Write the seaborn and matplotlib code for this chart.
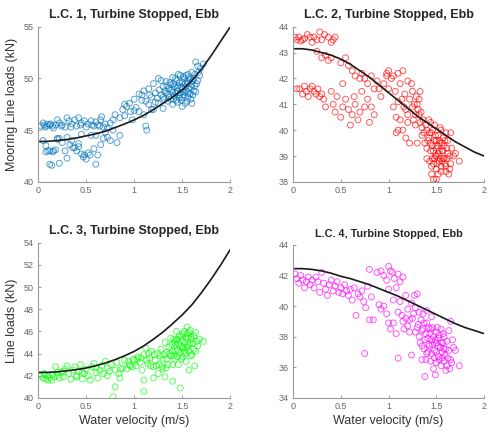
import numpy as np
import pandas as pd
import seaborn as sns
import matplotlib
matplotlib.use("Agg")
import matplotlib.pyplot as plt

# ---- data ----
fit_x = [0.0, 0.1, 0.2, 0.3, 0.4, 0.5, 0.6, 0.7, 0.8, 0.9, 1.0,
         1.1, 1.2, 1.3, 1.4, 1.5, 1.6, 1.7, 1.8, 1.9, 2.0]

fit_lc1 = [43.9, 43.92, 44.0, 44.1, 44.25, 44.45, 44.65, 44.9, 45.25, 45.6, 46.0,
           46.45, 47.0, 47.6, 48.2, 48.9, 49.8, 50.9, 52.2, 53.6, 55.0]
fit_lc2 = [43.15, 43.15, 43.1, 43.0, 42.9, 42.75, 42.55, 42.3, 42.05, 41.75, 41.45,
           41.15, 40.85, 40.55, 40.3, 40.05, 39.8, 39.55, 39.35, 39.15, 39.0]
fit_lc3 = [42.3, 42.3, 42.35, 42.45, 42.55, 42.7, 42.9, 43.15, 43.45, 43.8, 44.2,
           44.7, 45.3, 45.95, 46.7, 47.5, 48.4, 49.5, 50.7, 52.0, 53.4]
fit_lc4 = [42.45, 42.45, 42.4, 42.3, 42.15, 41.95, 41.8, 41.6, 41.4, 41.15, 40.9,
           40.65, 40.35, 40.05, 39.75, 39.45, 39.15, 38.85, 38.6, 38.4, 38.2]

lc1_pts = [
    (0.03,45.4),(0.05,45.7),(0.07,45.3),(0.1,45.6),(0.12,45.5),(0.15,45.4),(0.18,45.5),(0.2,46.0),
    (0.22,45.7),(0.25,45.5),(0.28,45.3),(0.3,46.2),(0.32,45.9),(0.35,45.6),(0.38,46.0),(0.4,45.4),
    (0.42,46.2),(0.45,45.7),(0.5,45.3),(0.52,45.6),(0.55,45.9),(0.58,45.4),(0.6,45.8),(0.62,45.5),
    (0.65,46.0),(0.68,45.3),(0.7,45.6),(0.72,45.2),(0.75,45.7),(0.78,46.0),
    (0.06,45.5),(0.09,45.4),(0.13,45.6),(0.16,45.2),(0.24,45.4),(0.34,45.3),(0.44,45.5),(0.48,45.9),
    (0.56,45.5),(0.64,45.4),(0.66,46.3),
    (0.05,44.0),(0.08,43.5),(0.1,43.0),(0.12,41.7),(0.14,41.6),(0.15,42.9),(0.18,43.1),(0.2,44.2),
    (0.22,41.8),(0.25,43.8),(0.28,43.0),(0.3,42.3),(0.33,43.6),(0.35,44.0),(0.38,43.3),(0.4,43.0),
    (0.42,43.7),(0.45,42.7),(0.47,42.4),(0.5,42.2),(0.52,42.8),(0.55,44.5),(0.58,43.2),(0.6,41.7),
    (0.62,42.6),(0.65,43.6),(0.68,44.2),(0.7,44.8),(0.72,44.3),(0.75,44.0),(0.78,45.0),(0.82,43.8),
    (0.85,44.5),(0.2,44.1),(0.3,44.3),(0.45,44.6),(0.6,44.5),
    (0.36,43.3),(0.42,43.4),(0.48,42.6),(0.54,42.6),(0.16,43.0),(0.22,44.2),(0.08,42.9),(0.12,43.0),
    (0.8,46.5),(0.85,46.2),(0.88,47.0),(0.9,46.4),(0.92,47.3),(0.95,47.6),(0.98,46.0),(1.0,48.0),
    (1.02,47.2),(1.05,48.5),(1.05,46.8),(1.08,47.9),(1.1,46.5),(1.1,48.8),(1.12,45.4),(1.13,45.0),
    (1.15,47.5),(1.15,49.0),(1.18,48.2),(1.2,47.0),(1.2,49.5),(1.22,48.6),(1.25,47.6),(1.25,50.0),
    (1.28,48.4),(1.3,49.2),(1.3,47.1),(1.32,48.8),(1.33,49.7),
    (1.26,48.9),(1.24,48.1),(1.22,47.7),(1.18,47.0),(1.16,48.4),(1.12,47.8),(1.08,48.4),(0.96,46.8),
    (0.9,47.5),(1.0,46.9),
    (1.35,48.5),(1.36,49.0),(1.38,48.0),(1.38,49.4),(1.4,48.7),(1.4,47.5),(1.42,49.2),(1.42,48.3),
    (1.44,49.8),(1.44,47.9),(1.45,48.8),(1.46,49.3),(1.47,48.1),(1.48,50.3),(1.48,48.6),(1.5,49.0),
    (1.5,47.3),(1.5,49.6),(1.52,48.4),(1.52,50.0),(1.53,49.2),(1.54,48.8),(1.55,49.7),(1.55,47.8),
    (1.56,50.4),(1.57,49.0),(1.58,48.5),(1.58,49.9),(1.6,49.4),(1.6,50.6),(1.62,48.8),(1.62,50.0),
    (1.64,51.6),(1.65,49.5),(1.66,51.2),(1.68,50.3),(1.72,51.4),(1.35,47.8),(1.4,50.1),(1.46,50.4),
    (1.3,48.2),(1.28,49.8),(1.5,48.2),(1.56,48.2),(1.6,47.6),
    (1.31,48.0),(1.33,48.6),(1.34,49.3),(1.36,48.2),(1.37,49.6),(1.39,48.9),(1.41,48.0),(1.41,49.5),
    (1.43,48.6),(1.43,50.0),(1.45,47.7),(1.45,49.1),(1.47,49.6),(1.47,48.4),(1.49,49.2),(1.49,47.9),
    (1.51,48.7),(1.51,50.2),(1.53,47.6),(1.53,49.5),(1.54,50.3),(1.56,48.6),(1.56,49.5),(1.57,50.1),
    (1.59,49.2),(1.59,48.0),(1.61,49.8),(1.61,48.4),(1.63,49.3),(1.63,50.4),(1.64,48.7),(1.66,49.8),
    (1.67,50.6),(1.69,51.0),
]

lc2_pts = [
    (0.02,43.6),(0.04,43.5),(0.06,43.6),(0.08,43.45),(0.1,43.5),(0.12,43.55),(0.15,43.7),(0.18,43.6),
    (0.2,43.4),(0.22,43.6),(0.25,43.5),(0.28,43.8),(0.3,43.5),(0.33,43.7),(0.37,43.6),(0.4,43.4),
    (0.42,43.5),(0.44,43.6),(0.25,43.05),(0.3,42.8),(0.34,42.9),(0.37,42.7),(0.4,42.8),
    (0.04,41.6),(0.07,41.6),(0.1,41.4),(0.12,41.7),(0.14,41.5),(0.16,41.3),(0.18,41.6),(0.2,41.7),
    (0.22,41.5),(0.24,41.4),(0.26,41.6),(0.28,41.3),(0.3,41.4),(0.32,41.2),(0.34,40.9),(0.4,41.5),
    (0.42,41.0),(0.44,40.7),(0.46,41.3),(0.5,40.5),(0.52,40.9),(0.55,41.2),(0.58,40.8),(0.6,40.2),
    (0.62,40.6),(0.65,41.0),(0.68,40.4),(0.7,40.7),(0.72,41.5),(0.75,40.9),(0.78,41.2),(0.8,40.3),
    (0.82,40.9),(0.85,40.6),(0.52,41.8),(0.64,41.3),
    (0.5,42.6),(0.55,42.8),(0.58,42.5),(0.62,42.3),(0.65,42.1),(0.7,42.0),(0.72,42.2),(0.75,42.0),
    (0.78,41.8),(0.82,42.1),(0.85,41.6),(0.88,41.9),(0.9,41.6),(0.92,41.3),(0.95,41.8),(0.98,42.1),
    (1.0,41.6),
    (0.98,42.2),(1.0,42.3),(1.03,42.0),(1.05,42.1),(1.07,41.5),(1.1,42.2),(1.12,41.8),(1.15,42.3),
    (1.17,41.4),(1.2,41.9),(1.22,41.2),(1.05,40.9),(1.08,40.5),(1.1,41.1),(1.12,40.4),(1.15,40.0),
    (1.18,40.8),(1.2,40.3),(1.22,39.5),(1.25,40.9),(1.25,41.5),(1.28,40.2),(1.3,41.0),(1.3,39.5),
    (1.32,40.6),(1.33,41.5),(1.35,40.1),(1.35,39.8),(1.08,39.9),(1.1,40.0),(1.18,39.7),(1.28,40.6),
    (1.32,41.2),
    (1.36,40.4),(1.37,39.9),(1.34,40.7),(1.33,40.3),(1.31,40.8),(1.29,41.3),(1.27,41.0),(1.26,40.4),
    (1.24,41.8),(1.2,40.6),(1.16,40.9),(1.14,41.2),
    (1.38,39.5),(1.4,40.0),(1.4,38.9),(1.42,39.7),(1.42,40.4),(1.44,39.2),(1.45,38.6),(1.45,39.9),
    (1.46,39.4),(1.47,38.1),(1.48,39.6),(1.48,40.2),(1.5,39.0),(1.5,39.3),(1.5,38.5),(1.52,39.8),
    (1.52,39.1),(1.53,38.8),(1.54,39.5),(1.55,40.0),(1.55,38.6),(1.56,39.2),(1.57,39.7),(1.58,38.9),
    (1.58,39.4),(1.6,38.6),(1.6,39.9),(1.62,39.1),(1.63,38.3),(1.65,38.7),(1.65,39.9),(1.68,39.0),
    (1.7,39.1),(1.74,38.8),(1.44,40.3),(1.46,38.9),(1.5,39.6),(1.4,39.3),(1.52,38.3),(1.57,38.9),
    (1.39,40.2),(1.41,39.6),(1.43,39.9),(1.43,38.8),(1.44,39.5),(1.46,40.0),(1.47,39.2),(1.47,38.7),
    (1.49,39.8),(1.49,39.0),(1.51,39.4),(1.51,38.7),(1.53,39.6),(1.53,39.2),(1.54,38.9),(1.54,40.1),
    (1.56,39.5),(1.56,38.8),(1.57,39.2),(1.59,39.6),(1.59,38.7),(1.61,39.3),(1.61,38.9),(1.62,39.6),
    (1.64,39.0),(1.64,38.5),(1.66,39.3),(1.45,38.3),(1.48,38.9),(1.55,38.4),(1.6,38.4),(1.5,38.1),
]

lc3_pts = [
    (0.03,42.0),(0.05,41.8),(0.07,42.1),(0.08,41.7),(0.1,42.0),(0.12,41.8),(0.14,41.6),(0.15,42.1),
    (0.17,41.9),(0.18,42.8),(0.2,42.0),(0.22,41.8),(0.24,42.3),(0.26,41.9),(0.28,42.6),(0.3,42.9),
    (0.32,42.2),(0.34,41.7),(0.36,42.5),(0.38,42.8),(0.4,42.0),(0.42,42.4),(0.44,43.0),(0.46,41.7),
    (0.48,42.2),(0.5,42.6),(0.52,42.0),(0.54,41.6),(0.56,42.8),(0.58,43.1),(0.6,42.3),(0.62,41.8),
    (0.64,42.5),(0.66,42.9),(0.68,42.2),(0.7,43.3),(0.72,42.7),(0.74,42.4),(0.76,43.0),(0.78,40.1),
    (0.8,41.0),(0.8,42.5),(0.82,43.2),(0.85,41.8),(0.88,42.7),(0.9,43.4),(0.92,42.6),
    (0.86,42.6),(0.84,42.2),(0.72,42.0),(0.6,42.7),(0.46,42.3),(0.4,41.9),(0.26,42.4),(0.2,42.3),
    (0.1,41.6),(0.06,42.2),
    (0.95,43.0),(0.98,42.8),(1.0,43.4),(1.02,42.9),(1.04,43.7),(1.06,43.2),(1.08,42.5),(1.1,41.6),
    (1.1,40.6),(1.1,43.9),(1.12,44.5),(1.14,43.1),(1.16,43.6),(1.18,44.2),(1.2,42.8),(1.2,41.8),
    (1.22,43.4),(1.24,44.0),(1.25,42.2),(1.26,43.0),(1.28,44.4),(1.3,42.6),(1.3,43.5),(1.32,41.9),
    (1.32,45.0),(1.34,44.1),
    (1.34,43.5),(1.33,42.7),(1.31,43.9),(1.29,42.8),(1.27,43.8),(1.23,42.9),(1.21,43.9),(1.17,42.9),
    (1.15,44.0),(1.13,43.4),(1.07,43.6),(1.03,43.5),(0.99,43.5),(0.96,42.9),(0.94,43.3),
    (1.35,43.0),(1.36,44.6),(1.38,43.8),(1.38,45.4),(1.4,44.2),(1.4,41.5),(1.42,45.0),(1.42,43.5),
    (1.43,44.8),(1.44,46.0),(1.45,44.3),(1.46,43.0),(1.47,45.6),(1.48,44.7),(1.48,40.9),(1.5,45.2),
    (1.5,43.7),(1.52,46.0),(1.52,44.1),(1.53,45.0),(1.54,43.3),(1.55,46.4),(1.55,44.6),(1.56,45.5),
    (1.57,42.5),(1.58,44.9),(1.58,46.1),(1.6,45.3),(1.6,43.9),(1.62,44.4),(1.63,42.9),(1.65,45.1),
    (1.68,45.3),(1.72,45.1),(1.5,44.5),(1.45,45.3),(1.4,43.0),(1.55,45.8),
    (1.37,44.0),(1.39,44.8),(1.41,43.8),(1.41,45.3),(1.43,44.2),(1.44,45.2),(1.45,43.7),(1.46,44.9),
    (1.47,44.1),(1.49,45.5),(1.49,43.5),(1.51,44.6),(1.51,45.8),(1.53,44.3),(1.54,45.4),(1.54,44.0),
    (1.56,44.8),(1.57,45.9),(1.57,44.2),(1.59,45.5),(1.59,43.8),(1.61,44.9),(1.62,45.6),(1.64,44.2),
    (1.64,45.9),(1.66,44.7),
]

lc4_pts = [
    (0.02,42.1),(0.04,41.8),(0.06,41.5),(0.08,42.0),(0.1,41.7),(0.12,41.2),(0.14,41.6),(0.16,41.9),
    (0.18,41.4),(0.2,41.7),(0.22,41.2),(0.24,41.9),(0.26,41.6),(0.28,40.9),(0.3,42.2),(0.32,41.5),
    (0.34,41.1),(0.36,40.7),(0.38,41.4),(0.4,41.7),(0.42,41.0),(0.44,41.3),(0.46,41.6),(0.48,40.9),
    (0.5,41.2),(0.52,40.8),(0.54,41.4),(0.56,41.0),(0.58,40.7),(0.6,41.1),(0.62,40.4),(0.64,41.2),
    (0.66,39.4),(0.68,40.8),(0.7,40.6),(0.72,41.0),(0.74,40.3),(0.76,39.9),(0.78,41.3),(0.8,39.1),
    (0.82,40.6),(0.75,36.9),(0.84,39.1),
    (0.8,42.4),(0.88,42.2),(0.92,42.3),(0.95,42.0),(0.98,41.7),(1.0,42.6),(1.02,42.3),(1.04,42.2),
    (1.06,41.8),(1.1,42.1),(1.12,41.6),(1.15,41.9),(1.0,41.1),(1.05,40.4),(1.08,41.2),(0.9,40.1),
    (0.92,39.8),(0.95,40.0),(0.98,39.5),(1.0,38.9),(1.02,38.5),(1.05,38.9),(1.08,38.2),(1.1,36.6),
    (1.1,39.6),(1.12,40.3),(1.15,39.0),(1.18,40.7),(1.2,39.8),(1.22,38.3),(1.24,36.8),(1.25,39.2),
    (1.28,39.9),(1.3,40.8),(1.3,38.6),
    (1.28,38.3),(1.26,39.5),(1.24,40.2),(1.22,39.1),(1.2,38.7),(1.16,38.5),(1.14,39.4),(1.18,39.2),
    (1.27,40.7),(1.32,39.6),(1.36,39.5),(1.4,39.7),
    (1.32,38.0),(1.34,39.1),(1.35,37.4),(1.36,38.5),(1.38,35.4),(1.38,37.8),(1.4,38.9),(1.4,36.9),
    (1.42,37.5),(1.43,38.2),(1.44,36.4),(1.45,37.8),(1.46,38.6),(1.47,35.9),(1.48,37.1),(1.49,35.5),
    (1.5,37.6),(1.5,38.3),(1.52,36.7),(1.52,37.9),(1.54,37.3),(1.55,36.1),(1.55,38.5),(1.56,37.0),
    (1.57,37.6),(1.58,36.4),(1.6,37.2),(1.6,35.8),(1.62,36.6),(1.64,35.9),(1.65,39.0),(1.66,36.3),
    (1.68,37.3),(1.7,37.1),(1.74,36.1),(1.45,39.3),(1.35,36.5),(1.42,38.6),(1.5,36.3),(1.58,38.0),
    (1.31,38.8),(1.33,37.6),(1.35,38.4),(1.37,37.2),(1.37,38.9),(1.39,38.2),(1.39,36.5),(1.41,37.9),
    (1.41,37.0),(1.43,37.4),(1.44,38.5),(1.45,36.9),(1.46,37.5),(1.47,38.0),(1.48,36.6),(1.49,37.8),
    (1.5,37.0),(1.51,38.6),(1.52,37.4),(1.53,36.5),(1.53,38.1),(1.55,37.6),(1.56,36.6),(1.57,38.2),
    (1.58,37.2),(1.59,36.8),(1.61,37.7),(1.61,36.1),(1.63,37.1),(1.63,38.4),(1.65,36.5),(1.67,37.8),
]

titles = ['L.C. 1, Turbine Stopped, Ebb', 'L.C. 2, Turbine Stopped, Ebb',
          'L.C. 3, Turbine Stopped, Ebb', 'L.C. 4, Turbine Stopped, Ebb']
colors = ['#0072BD', '#FF0000', '#00FF00', '#FF00FF']
ylims = [(40, 55), (38, 44), (40, 54), (34, 44)]
yticks = [[40, 45, 50, 55], [38, 39, 40, 41, 42, 43, 44],
          [40, 42, 44, 46, 48, 50, 52, 54], [34, 36, 38, 40, 42, 44]]
ylabels = ['Mooring Line loads (kN)', '', 'Line loads (kN)', '']
xticks = [0, 0.5, 1, 1.5, 2]
xticklabels = ['0', '0.5', '1', '1.5', '2']

sns.set_style('ticks')
plt.rcParams['font.family'] = ['Liberation Sans', 'DejaVu Sans']

fig = plt.figure(figsize=(4.9, 4.32), dpi=100)
boxes = [[0.078, 0.579, 0.392, 0.359],
         [0.598, 0.579, 0.390, 0.359],
         [0.078, 0.079, 0.392, 0.359],
         [0.598, 0.079, 0.390, 0.354]]

all_pts = [lc1_pts, lc2_pts, lc3_pts, lc4_pts]
all_fit = [fit_lc1, fit_lc2, fit_lc3, fit_lc4]

for i in range(4):
    ax = fig.add_axes(boxes[i])
    df = pd.DataFrame(all_pts[i], columns=['v', 'load'])
    sns.scatterplot(data=df, x='v', y='load', ax=ax, marker='o', s=18,
                    facecolor='none', edgecolor=colors[i], linewidth=0.7,
                    alpha=0.65, legend=False)
    sns.lineplot(x=fit_x, y=all_fit[i], ax=ax, color='#1a1a1a', linewidth=1.2)
    ax.set_xlim(0, 2)
    ax.set_ylim(*ylims[i])
    ax.set_xticks(xticks)
    ax.set_xticklabels(xticklabels)
    ax.set_yticks(yticks[i])
    ax.tick_params(direction='in', length=2.5, width=0.6, colors='#888888',
                   labelsize=6.5, labelcolor='#666666', pad=3)
    for s in ['top', 'right']:
        ax.spines[s].set_visible(False)
    for s in ['left', 'bottom']:
        ax.spines[s].set_color('#999999')
        ax.spines[s].set_linewidth(0.8)
    ax.set_title(titles[i], fontsize=9 if i < 3 else 7.8, fontweight='bold', pad=6)
    ax.set_ylabel(ylabels[i], fontsize=9, color='#333333', labelpad=4)
    if i >= 2:
        ax.set_xlabel('Water velocity (m/s)', fontsize=9, color='#333333', labelpad=3)
    else:
        ax.set_xlabel('')

fig.savefig('out.png', dpi=100)
